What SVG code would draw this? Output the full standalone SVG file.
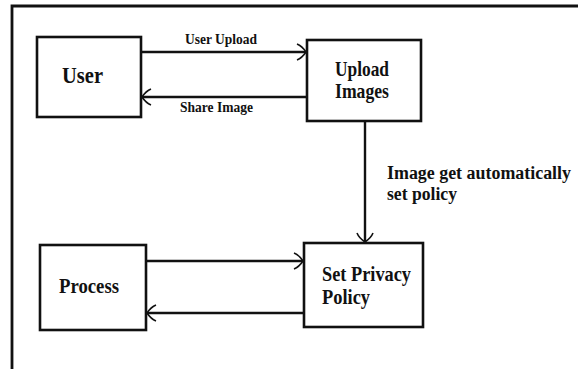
<svg xmlns="http://www.w3.org/2000/svg" width="578" height="369" viewBox="0 0 578 369">
<style>
.box{fill:#fff;stroke:#111;stroke-width:2.6}
.ln{fill:none;stroke:#111;stroke-width:2.4}
.t{font-family:"Liberation Serif","Times New Roman",serif;font-weight:bold;fill:#111}
</style>
<defs>
<marker id="ah" markerUnits="userSpaceOnUse" markerWidth="20" markerHeight="24" viewBox="-12 -12 14 24" refX="0" refY="0" orient="auto">
<path d="M-9,-8 Q-4,-6 0,0 M-9,8 Q-4,6 0,0" fill="none" stroke="#111" stroke-width="1.6"/>
</marker>
</defs>
<rect width="578" height="369" fill="#fff"/>
<path d="M12,369 V6 H578" fill="none" stroke="#111" stroke-width="2.8"/>
<g id="connectors">
<path class="ln" d="M141,52 H306" marker-end="url(#ah)"/>
<path class="ln" d="M307,97 H142" marker-end="url(#ah)"/>
<path class="ln" d="M365,121 V242" marker-end="url(#ah)"/>
<path class="ln" d="M146,261 H303" marker-end="url(#ah)"/>
<path class="ln" d="M304,313 H147" marker-end="url(#ah)"/>
<text class="t" x="185" y="44" font-size="15" textLength="72" lengthAdjust="spacingAndGlyphs">User Upload</text>
<text class="t" x="180" y="112" font-size="15" textLength="73" lengthAdjust="spacingAndGlyphs">Share Image</text>
<text class="t" x="387" y="179" font-size="18" textLength="184" lengthAdjust="spacingAndGlyphs">Image get automatically</text>
<text class="t" x="387" y="200" font-size="18" textLength="70" lengthAdjust="spacingAndGlyphs">set policy</text>
</g>
<g id="user">
<rect class="box" x="37" y="37" width="104" height="80"/>
<text class="t" x="62" y="83" font-size="23" textLength="41" lengthAdjust="spacingAndGlyphs">User</text>
</g>
<g id="upload-images">
<rect class="box" x="307" y="40" width="114" height="81"/>
<text class="t" x="335" y="76" font-size="21" textLength="54" lengthAdjust="spacingAndGlyphs">Upload</text>
<text class="t" x="335" y="98" font-size="21" textLength="54" lengthAdjust="spacingAndGlyphs">Images</text>
</g>
<g id="process">
<rect class="box" x="40" y="245" width="106" height="85"/>
<text class="t" x="59" y="293" font-size="22" textLength="60" lengthAdjust="spacingAndGlyphs">Process</text>
</g>
<g id="set-privacy-policy">
<rect class="box" x="304" y="243" width="119" height="84"/>
<text class="t" x="322" y="281" font-size="21" textLength="89" lengthAdjust="spacingAndGlyphs">Set Privacy</text>
<text class="t" x="322" y="304" font-size="21" textLength="48" lengthAdjust="spacingAndGlyphs">Policy</text>
</g>
</svg>
